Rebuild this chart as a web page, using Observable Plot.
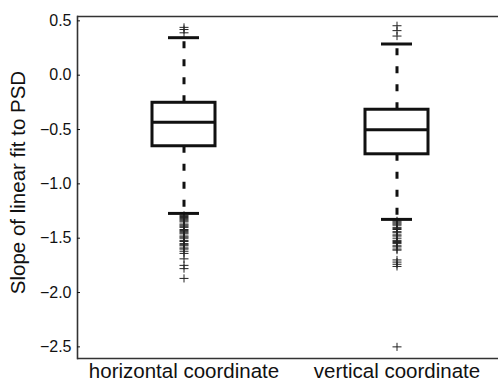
<!DOCTYPE html>
<html>
<head>
<meta charset="utf-8">
<script src="https://cdn.jsdelivr.net/npm/d3@7"></script>
<script src="https://cdn.jsdelivr.net/npm/@observablehq/plot@0.6"></script>
<style>
  html, body { margin: 0; padding: 0; background: white; overflow: hidden; }
</style>
</head>
<body>
<div id="chart"></div>
<script>
const categories = ["horizontal coordinate", "vertical coordinate"];
const q1 = [-0.654, -0.728];
const median = [-0.434, -0.502];
const q3 = [-0.254, -0.318];
const whiskerLow = [-1.272, -1.327];
const whiskerHigh = [0.345, 0.287];
const outliersHorizontal = [0.44, 0.42, 0.39,
  -1.29, -1.30, -1.31, -1.32, -1.33, -1.34, -1.35, -1.37, -1.38, -1.39, -1.40,
  -1.42, -1.43, -1.44, -1.45, -1.46, -1.48, -1.49, -1.50, -1.52, -1.53, -1.55,
  -1.56, -1.57, -1.59, -1.60, -1.62, -1.64, -1.69, -1.75, -1.78, -1.87];
const outliersVertical = [0.455, 0.41, 0.36,
  -1.34, -1.35, -1.36, -1.37, -1.38, -1.40, -1.41, -1.42, -1.44, -1.45, -1.47,
  -1.48, -1.50, -1.52, -1.53, -1.54, -1.55, -1.57, -1.58, -1.60, -1.61,
  -1.70, -1.72, -1.74, -1.76, -2.50];
const yTicks = [0.5, 0.0, -0.5, -1.0, -1.5, -2.0, -2.5];
const yLabel = "Slope of linear fit to PSD";

const stats = categories.map((c, i) => ({
  cat: c, q1: q1[i], med: median[i], q3: q3[i], lo: whiskerLow[i], hi: whiskerHigh[i]
}));
const outliers = [
  ...outliersHorizontal.map(v => ({cat: categories[0], value: v})),
  ...outliersVertical.map(v => ({cat: categories[1], value: v}))
];

const plus = {
  draw(context, size) {
    const r = Math.sqrt(size / Math.PI);
    context.moveTo(-r, 0); context.lineTo(r, 0);
    context.moveTo(0, -r * 0.9); context.lineTo(0, r * 0.9);
  }
};

const yDomain = [-2.607, 0.54];

const chart = Plot.plot({
  width: 498,
  height: 382,
  marginLeft: 77,
  marginRight: 0,
  marginTop: 16,
  marginBottom: 24,
  style: {fontFamily: "'Liberation Sans', Arial, sans-serif", background: "white", color: "#111"},
  x: {type: "band", domain: categories, range: [77, 503], padding: 0, label: null},
  y: {domain: yDomain, label: null},
  marks: [
    Plot.ruleY([yDomain[1]], {stroke: "#333", strokeWidth: 1.6}),
    Plot.ruleY([yDomain[0]], {stroke: "#333", strokeWidth: 1.6}),
    Plot.frame({anchor: "left", stroke: "#333", strokeWidth: 1.6}),
    Plot.axisY({ticks: yTicks, tickFormat: d3.format(".1f"), tickSize: -3, tickPadding: 9, fontSize: 16, label: null}),
    Plot.axisX({tickSize: 0, tickPadding: 5, fontSize: 20.5, label: null}),
    Plot.text([yLabel], {frameAnchor: "left", textAnchor: "middle", rotate: -90, dx: -59, dy: -5, fontSize: 20.5, fill: "#111"}),
    Plot.ruleX(stats, {x: "cat", y1: "q3", y2: "hi", stroke: "#111", strokeWidth: 3, strokeDasharray: "7,11"}),
    Plot.ruleX(stats, {x: "cat", y1: "q1", y2: "lo", stroke: "#111", strokeWidth: 3, strokeDasharray: "7,11"}),
    Plot.dot(outliers, {x: "cat", y: "value", symbol: plus, r: 4.5, fill: "none", stroke: "#222", strokeWidth: 1}),
    Plot.barY(stats, {x: "cat", y1: "q1", y2: "q3", fill: "white", stroke: "#111", strokeWidth: 3, insetLeft: 75, insetRight: 75}),
    Plot.tickY(stats, {x: "cat", y: "med", stroke: "#111", strokeWidth: 3, insetLeft: 75, insetRight: 75}),
    Plot.tickY(stats, {x: "cat", y: "hi", stroke: "#111", strokeWidth: 3, insetLeft: 91, insetRight: 91}),
    Plot.tickY(stats, {x: "cat", y: "lo", stroke: "#111", strokeWidth: 3, insetLeft: 91, insetRight: 91})
  ]
});
document.getElementById("chart").appendChild(chart);
</script>
</body>
</html>
